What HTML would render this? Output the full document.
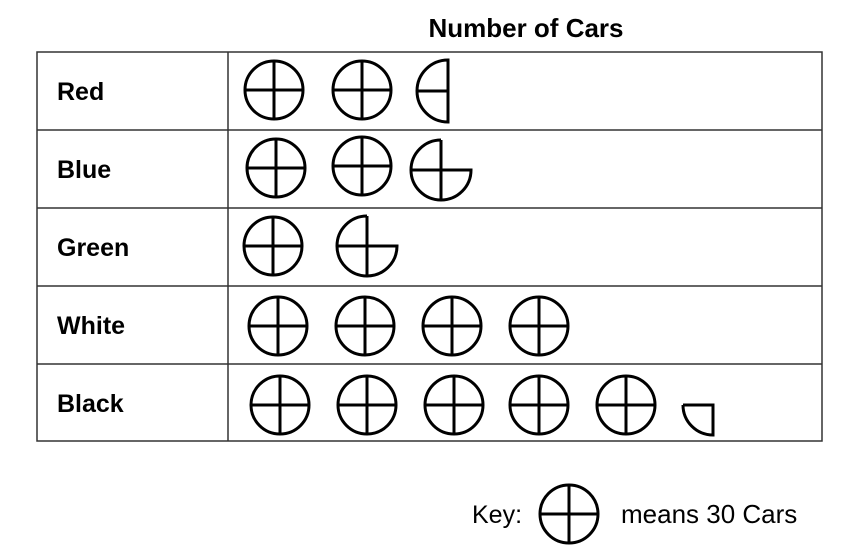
<!DOCTYPE html>
<html><head><style>body{margin:0;background:#fff}</style></head><body>
<svg width="851" height="547" xmlns="http://www.w3.org/2000/svg" font-family="Liberation Sans, Arial, sans-serif">
<defs>
<g id="c" fill="none" stroke="#000" stroke-width="3"><circle r="29"/><line x1="-29" y1="0" x2="29" y2="0"/><line x1="0" y1="-29" x2="0" y2="29"/></g>
</defs>
<text x="526" y="37" font-size="26" font-weight="bold" text-anchor="middle">Number of Cars</text>
<g fill="none" stroke="#333" stroke-width="1.5">
<rect x="37" y="52" width="785" height="389"/>
<line x1="228" y1="52" x2="228" y2="441"/>
<line x1="37" y1="130" x2="822" y2="130"/>
<line x1="37" y1="208" x2="822" y2="208"/>
<line x1="37" y1="286" x2="822" y2="286"/>
<line x1="37" y1="364" x2="822" y2="364"/>
</g>
<g font-size="25" font-weight="bold">
<text x="57" y="100">Red</text>
<text x="57" y="178">Blue</text>
<text x="57" y="256">Green</text>
<text x="57" y="334">White</text>
<text x="57" y="412">Black</text>
</g>
<use href="#c" x="274" y="90"/><use href="#c" x="362" y="90"/>
<path d="M448 60 A30 30 0 0 0 448 122 Z M418 91 H448" fill="none" stroke="#000" stroke-width="3"/>
<use href="#c" x="276" y="168"/><use href="#c" x="362" y="166"/>
<path d="M441 140 V200 M441 140 A30 30 0 0 0 441 200 A30 30 0 0 0 471 170 H411" fill="none" stroke="#000" stroke-width="3"/>
<use href="#c" x="273" y="246"/>
<path d="M367 216 V276 M367 216 A30 30 0 0 0 367 276 A30 30 0 0 0 397 246 H337" fill="none" stroke="#000" stroke-width="3"/>
<use href="#c" x="278" y="326"/><use href="#c" x="365" y="326"/><use href="#c" x="452" y="326"/><use href="#c" x="539" y="326"/>
<use href="#c" x="280" y="405"/><use href="#c" x="367" y="405"/><use href="#c" x="454" y="405"/><use href="#c" x="539" y="405"/><use href="#c" x="626" y="405"/>
<path d="M683 405 H713 V435 A30 30 0 0 1 683 405" fill="none" stroke="#000" stroke-width="3"/>
<text x="472" y="523" font-size="25">Key:</text>
<use href="#c" x="569" y="514"/>
<text x="621" y="523" font-size="26">means 30 Cars</text>
</svg>
</body></html>
